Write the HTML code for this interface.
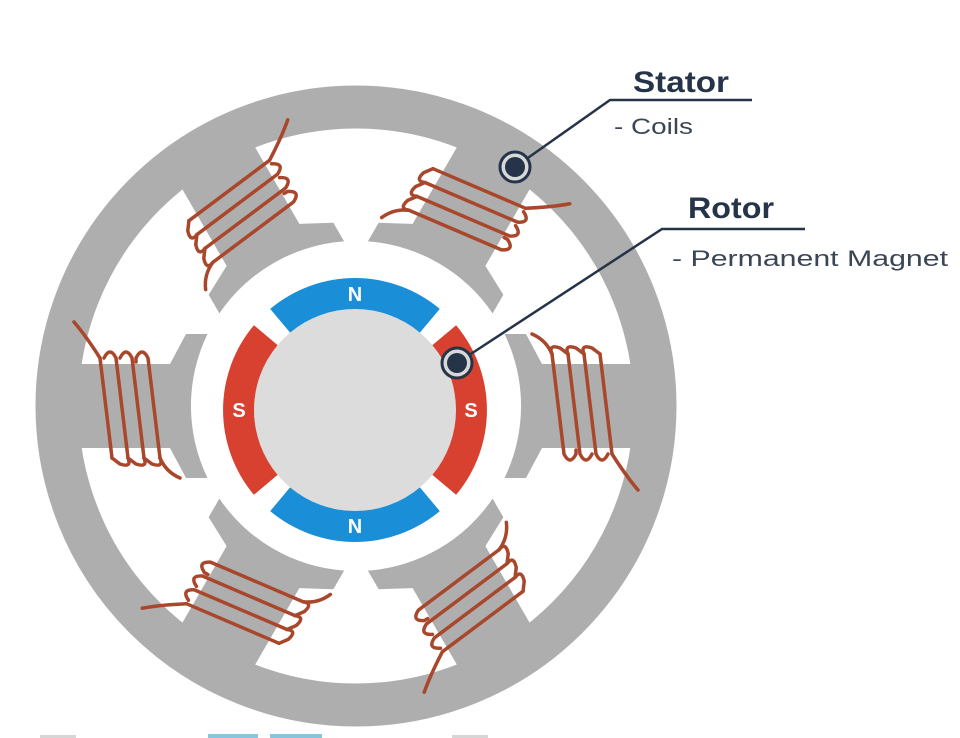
<!DOCTYPE html>
<html><head><style>
html,body{margin:0;padding:0;background:#fff;}
svg{display:block;}
text{font-family:"Liberation Sans",sans-serif;}
</style></head><body>
<svg width="960" height="738" viewBox="0 0 960 738" xmlns="http://www.w3.org/2000/svg">
<defs>
<g id="pole">
  <path d="M148.5,-72 A165,165 0 0 1 148.5,72 L170,72 L186,42 L300,42 L300,-42 L186,-42 L170,-72 Z" fill="#aeaeae"/>
  <g fill="none" stroke="#a8472b" stroke-width="3.5" stroke-linecap="round">
    <path d="M196,-52 L208,48 Q214,60 220,48 L220,44"/>
    <path d="M212,-52 L224,48 Q230,60 236,48"/>
    <path d="M228,-52 L240,48 Q246,60 252,48"/>
    <path d="M244,-52 L256,48"/>
    <path d="M196,-52 Q192,-62 204,-58 L212,-52"/>
    <path d="M212,-52 Q208,-62 220,-58 L228,-52"/>
    <path d="M228,-52 Q224,-62 236,-58 L244,-52"/>
    <path d="M256,48 Q270,70 282,84"/>
    <path d="M196,-52 Q190,-66 176,-72"/>
  </g>
</g>
</defs>
<circle cx="356" cy="406" r="299" fill="none" stroke="#aeaeae" stroke-width="43"/>
<g transform="translate(356,406)">
  <use href="#pole" transform="rotate(0)"/>
  <use href="#pole" transform="rotate(60)"/>
  <use href="#pole" transform="rotate(120)"/>
  <use href="#pole" transform="rotate(180)"/>
  <use href="#pole" transform="rotate(240)"/>
  <use href="#pole" transform="rotate(300)"/>
</g>
<g transform="translate(355,410)">
  <circle r="101" fill="#dcdcdc"/>
  <path d="M-84.8,-101.1 A132,132 0 0 1 84.8,-101.1 L64.9,-77.4 A101,101 0 0 0 -64.9,-77.4 Z" fill="#1a8fd8"/>
  <path d="M-84.8,101.1 A132,132 0 0 0 84.8,101.1 L64.9,77.4 A101,101 0 0 1 -64.9,77.4 Z" fill="#1a8fd8"/>
  <path d="M101.1,-84.8 A132,132 0 0 1 101.1,84.8 L77.4,64.9 A101,101 0 0 0 77.4,-64.9 Z" fill="#d8402f"/>
  <path d="M-101.1,-84.8 A132,132 0 0 0 -101.1,84.8 L-77.4,64.9 A101,101 0 0 1 -77.4,-64.9 Z" fill="#d8402f"/>
  <text x="0" y="-109" font-size="20" font-weight="bold" fill="#fff" text-anchor="middle">N</text>
  <text x="0" y="123" font-size="20" font-weight="bold" fill="#fff" text-anchor="middle">N</text>
  <text x="-116" y="7" font-size="20" font-weight="bold" fill="#fff" text-anchor="middle">S</text>
  <text x="116" y="7" font-size="20" font-weight="bold" fill="#fff" text-anchor="middle">S</text>
</g>
<g stroke="#253448" stroke-width="2.5" fill="none">
  <path d="M515,167 L610,100 L752,100"/>
  <path d="M457,363 L662,229 L805,229"/>
</g>
<circle cx="515" cy="167" r="15" fill="#d8d8d8" stroke="#253448" stroke-width="3"/>
<circle cx="515" cy="167" r="10" fill="#253448"/>
<circle cx="457" cy="363" r="15" fill="#d8d8d8" stroke="#253448" stroke-width="3"/>
<circle cx="457" cy="363" r="10" fill="#253448"/>
<text x="633" y="92" font-size="30" font-weight="bold" fill="#253448" textLength="96" lengthAdjust="spacingAndGlyphs">Stator</text>
<text x="614" y="134" font-size="22" fill="#3a4656" textLength="79" lengthAdjust="spacingAndGlyphs">- Coils</text>
<text x="688" y="218" font-size="30" font-weight="bold" fill="#253448" textLength="86" lengthAdjust="spacingAndGlyphs">Rotor</text>
<text x="672" y="266" font-size="22" fill="#3a4656" textLength="276" lengthAdjust="spacingAndGlyphs">- Permanent Magnet</text>
<g opacity="0.6">
<rect x="40" y="735" width="36" height="3" fill="#bbb"/>
<rect x="208" y="734" width="50" height="4" fill="#3a9fc8"/>
<rect x="270" y="734" width="52" height="4" fill="#3a9fc8"/>
<rect x="452" y="735" width="36" height="3" fill="#bbb"/>
</g>
</svg>
</body></html>
